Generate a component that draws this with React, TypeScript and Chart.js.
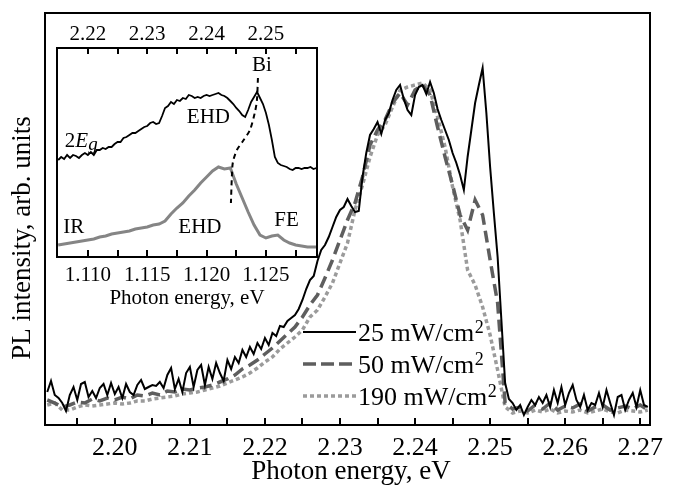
import React, { useEffect, useRef } from "react";
import { Chart, registerables } from "chart.js";

Chart.register(...registerables);

const SERIF = "'Liberation Serif', 'Times New Roman', Times, serif";

// ---------- main spectra (photon energy, eV) ----------
const MAIN_E_START = 2.191;
const FINE_STEP = 0.0005; // sampling of the 25 mW/cm2 spectrum
const COARSE_STEP = 0.001; // sampling of the 50 and 190 mW/cm2 spectra

const PL_25 = [
  33, 44, 30, 27, 22, 14, 30, 38, 25, 41, 43, 28, 34, 27, 37, 41, 30, 42, 31, 38,
  27, 41, 33, 30, 40, 45, 36, 38, 40, 39, 43, 37, 50, 57, 36, 46, 33, 52, 58, 38,
  55, 60, 40, 58, 46, 62, 52, 44, 65, 56, 68, 62, 75, 68, 78, 71, 82, 76, 87, 80,
  92, 89, 99, 98, 104, 107, 110, 116, 125, 136, 145, 149, 164, 175, 180, 188, 198, 208, 215, 218,
  226, 219, 213, 214, 248, 272, 290, 296, 303, 291, 305, 312, 325, 335, 340, 326, 315, 310, 330, 338,
  340, 331, 343, 332, 316, 305, 295, 285, 272, 262, 250, 235, 268, 295, 322, 340, 357, 312, 258, 212,
  168, 105, 42, 26, 22, 15, 20, 10, 18, 25, 20, 28, 22, 30, 18, 35, 22, 38, 20, 32,
  40, 25, 18, 30, 15, 22, 20, 32, 18, 35, 22, 10, 28, 30, 15, 25, 32, 18, 35, 20,
  18,
];

const PL_50 = [
  25, 22, 18, 20, 23, 22, 26, 24, 27, 25, 28, 26, 30, 29, 32, 30, 34, 33, 36, 35,
  37, 38, 40, 43, 46, 50, 56, 60, 65, 71, 77, 84, 91, 98, 108, 120, 130, 147, 165, 185,
  205, 222, 248, 280, 295, 305, 322, 332, 320, 335, 340, 330, 298, 268, 240, 210, 195, 225, 210, 165,
  122, 22, 16, 18, 14, 20, 16, 22, 15, 19, 17, 21, 14, 18, 20, 15, 17, 19, 16, 20,
  15,
];

const PL_190 = [
  20, 22, 15, 15, 18, 20, 19, 20, 21, 22, 21, 22, 24, 24, 26, 27, 28, 29, 31, 32,
  33, 35, 37, 39, 42, 45, 48, 52, 57, 63, 68, 76, 82, 88, 95, 108, 115, 128, 142, 162,
  182, 215, 240, 268, 290, 300, 318, 335, 338, 340, 342, 335, 308, 278, 238, 205, 155, 140, 118, 90,
  55, 18, 12, 14, 12, 15, 13, 16, 12, 14, 13, 15, 12, 14, 16, 13, 12, 15, 14, 13,
  15,
];

const MAIN_X_MIN = 2.1907;
const MAIN_X_MAX = 2.2713;
const MAIN_Y_MAX = 412;
const MAIN_TICKS = [2.2, 2.21, 2.22, 2.23, 2.24, 2.25, 2.26, 2.27];
const MAIN_MINOR_TICKS = [2.195, 2.205, 2.215, 2.225, 2.235, 2.245, 2.255, 2.265];
const LEGEND_LABELS = ["25 mW/cm", "50 mW/cm", "190 mW/cm"];

// ---------- inset ----------
const INSET_2EG_START = 2.215; // top axis, eV
const INSET_IR_START = 1.1075; // bottom axis, eV
const INSET_STEP = 0.0005;

const PL_2EG = [
  97, 100, 98, 102, 99, 102, 101, 99, 102, 104, 102, 105, 102, 107, 107, 109, 108, 110, 110, 113,
  115, 115, 119, 120, 122, 124, 124, 126, 128, 130, 131, 134, 135, 133, 134, 141, 149, 151, 155, 153,
  157, 156, 159, 158, 162, 161, 159, 160, 159, 161, 162, 161, 162, 163, 164, 162, 161, 159, 156, 153,
  149, 146, 142, 140, 147, 155, 160, 165, 159, 153, 144, 132, 117, 100, 94, 92, 91, 90, 88, 87,
  89, 89, 88, 89, 89, 90, 88, 89,
];

const PL_IR = [
  12, 13, 14, 15, 16, 17, 18, 20, 21, 23, 24, 25, 26, 28, 29, 30, 32, 33, 36, 43,
  49, 54, 61, 67, 74, 80, 86, 90, 88, 89, 73, 59, 45, 32, 22, 19, 21, 22, 17, 14,
  12, 11, 10, 10, 10,
];

const MARKER_E = [2.24865, 2.24848, 2.24815, 2.2473, 2.24613, 2.24511, 2.24444, 2.24427, 2.2441];
const MARKER_I = [179, 157, 145, 127, 116, 107, 95, 82, 54];

const INSET_TOP_MIN = 2.2148;
const INSET_TOP_MAX = 2.2586;
const INSET_BOTTOM_MIN = 1.1074;
const INSET_BOTTOM_MAX = 1.1293;
const INSET_Y_MAX = 209;
const INSET_TOP_TICKS = [2.22, 2.23, 2.24, 2.25];
const INSET_TOP_MINOR = [2.225, 2.235, 2.245, 2.255];
const INSET_BOTTOM_TICKS = [1.11, 1.115, 1.12, 1.125];
const INSET_BOTTOM_MINOR = [1.1125, 1.1175, 1.1225, 1.1275];

const INSET_LABELS = [
  { text: "Bi", e: 2.24933, i: 192 },
  { text: "EHD", e: 2.24031, i: 139.5 },
  { text: "IR", e: 2.21764, i: 29.5 },
  { text: "EHD", e: 2.23888, i: 29.5 },
  { text: "FE", e: 2.25346, i: 37 },
];
const LABEL_2EG = { e: 2.21612, i: 110 };

function sampled(start: number, step: number, values: number[]) {
  return values.map((v, k) => ({ x: +(start + k * step).toFixed(5), y: v }));
}
function paired(xs: number[], ys: number[]) {
  return xs.map((x, k) => ({ x, y: ys[k] }));
}

const mainDecor = {
  id: "mainDecor",
  afterDraw(chart: any) {
    const { ctx, chartArea: a, scales } = chart;
    const xs = scales.x;
    ctx.save();
    ctx.strokeStyle = "#000";
    ctx.lineWidth = 2;
    ctx.setLineDash([]);
    ctx.strokeRect(a.left, a.top, a.right - a.left, a.bottom - a.top);
    ctx.beginPath();
    [...MAIN_TICKS, ...MAIN_MINOR_TICKS].forEach((v) => {
      const px = Math.round(xs.getPixelForValue(v));
      ctx.moveTo(px, a.bottom);
      ctx.lineTo(px, a.bottom - 7);
    });
    ctx.stroke();

    ctx.fillStyle = "#000";
    ctx.textAlign = "center";
    ctx.textBaseline = "middle";
    ctx.font = `26px ${SERIF}`;
    MAIN_TICKS.forEach((v) => {
      ctx.fillText(v.toFixed(2), xs.getPixelForValue(v), 448);
    });
    ctx.font = `27px ${SERIF}`;
    ctx.fillText("Photon energy, eV", 351, 472);
    ctx.save();
    ctx.translate(23, 238);
    ctx.rotate(-Math.PI / 2);
    ctx.fillText("PL intensity, arb. units", 0, 0);
    ctx.restore();

    // legend
    const rows = [332, 364, 396];
    chart.data.datasets.forEach((ds: any, k: number) => {
      const y = rows[k];
      ctx.beginPath();
      ctx.strokeStyle = ds.borderColor;
      ctx.lineWidth = ds.borderWidth;
      ctx.setLineDash(ds.legendDash || []);
      ctx.moveTo(303, y);
      ctx.lineTo(356, y);
      ctx.stroke();
      ctx.setLineDash([]);
      ctx.fillStyle = "#000";
      ctx.textAlign = "left";
      ctx.textBaseline = "alphabetic";
      ctx.font = `26px ${SERIF}`;
      const label = LEGEND_LABELS[k];
      ctx.fillText(label, 358, y + 9);
      const w = ctx.measureText(label).width;
      ctx.font = `18px ${SERIF}`;
      ctx.fillText("2", 358 + w + 0.5, y + 1);
    });
    ctx.restore();
  },
};

const insetDecor = {
  id: "insetDecor",
  afterDraw(chart: any) {
    const { ctx, chartArea: a, scales } = chart;
    const xb = scales.x;
    const xt = scales.x2;
    const ys = scales.y;
    ctx.save();
    ctx.strokeStyle = "#000";
    ctx.lineWidth = 2;
    ctx.setLineDash([]);
    ctx.strokeRect(a.left, a.top, a.right - a.left, a.bottom - a.top);
    ctx.beginPath();
    [...INSET_TOP_TICKS, ...INSET_TOP_MINOR].forEach((v) => {
      const px = Math.round(xt.getPixelForValue(v));
      ctx.moveTo(px, a.top);
      ctx.lineTo(px, a.top + 6);
    });
    [...INSET_BOTTOM_TICKS, ...INSET_BOTTOM_MINOR].forEach((v) => {
      const px = Math.round(xb.getPixelForValue(v));
      ctx.moveTo(px, a.bottom);
      ctx.lineTo(px, a.bottom - 7);
    });
    ctx.stroke();

    ctx.fillStyle = "#000";
    ctx.font = `21px ${SERIF}`;
    ctx.textAlign = "center";
    ctx.textBaseline = "middle";
    INSET_TOP_TICKS.forEach((v) => {
      ctx.fillText(v.toFixed(2), xt.getPixelForValue(v), a.top - 14);
    });
    INSET_BOTTOM_TICKS.forEach((v) => {
      ctx.fillText(v.toFixed(3), xb.getPixelForValue(v), a.bottom + 18);
    });
    INSET_LABELS.forEach((l) => {
      ctx.fillText(l.text, xt.getPixelForValue(l.e), ys.getPixelForValue(l.i));
    });
    ctx.fillText("Photon energy, eV", (a.left + a.right) / 2, a.bottom + 41);

    // 2E_g
    ctx.textAlign = "left";
    ctx.textBaseline = "alphabetic";
    let px = xt.getPixelForValue(LABEL_2EG.e);
    const py = ys.getPixelForValue(LABEL_2EG.i);
    ctx.fillText("2", px, py);
    px += ctx.measureText("2").width;
    ctx.font = `italic 21px ${SERIF}`;
    ctx.fillText("E", px, py);
    px += ctx.measureText("E").width;
    ctx.font = `italic 19px ${SERIF}`;
    ctx.fillText("g", px, py + 3);
    ctx.restore();
  },
};

export default function App() {
  const mainRef = useRef<HTMLCanvasElement>(null);
  const insetRef = useRef<HTMLCanvasElement>(null);

  useEffect(() => {
    const main = new Chart(mainRef.current as HTMLCanvasElement, {
      type: "line",
      data: {
        datasets: [
          {
            label: "25 mW/cm2",
            data: sampled(MAIN_E_START, FINE_STEP, PL_25),
            borderColor: "#000000",
            borderWidth: 2,
            pointRadius: 0,
            tension: 0,
            fill: false,
          },
          {
            label: "50 mW/cm2",
            data: sampled(MAIN_E_START, COARSE_STEP, PL_50),
            borderColor: "#5e5e5e",
            borderWidth: 3.5,
            borderDash: [12, 6],
            legendDash: [13, 5],
            pointRadius: 0,
            tension: 0,
            fill: false,
          },
          {
            label: "190 mW/cm2",
            data: sampled(MAIN_E_START, COARSE_STEP, PL_190),
            borderColor: "#9b9b9b",
            borderWidth: 3.5,
            borderDash: [4, 3],
            legendDash: [4, 3],
            pointRadius: 0,
            tension: 0,
            fill: false,
          },
        ] as any,
      },
      options: {
        animation: false,
        responsive: false,
        events: [],
        layout: { padding: { left: 45, right: 27, top: 13, bottom: 0 } },
        plugins: { legend: { display: false }, tooltip: { enabled: false } },
        scales: {
          x: {
            type: "linear",
            min: MAIN_X_MIN,
            max: MAIN_X_MAX,
            grid: { display: false },
            border: { display: false },
            ticks: { display: false },
            afterFit: (s: any) => {
              s.height = 65;
            },
          },
          y: { type: "linear", display: false, min: 0, max: MAIN_Y_MAX },
        },
      },
      plugins: [mainDecor],
    });

    const inset = new Chart(insetRef.current as HTMLCanvasElement, {
      type: "line",
      data: {
        datasets: [
          {
            label: "2Eg",
            xAxisID: "x2",
            data: sampled(INSET_2EG_START, INSET_STEP, PL_2EG),
            borderColor: "#000000",
            borderWidth: 1.8,
            pointRadius: 0,
            tension: 0,
            fill: false,
          },
          {
            label: "marker",
            xAxisID: "x2",
            data: paired(MARKER_E, MARKER_I),
            borderColor: "#000000",
            borderWidth: 2,
            borderDash: [5, 4],
            pointRadius: 0,
            tension: 0.3,
            fill: false,
          },
          {
            label: "IR",
            xAxisID: "x",
            data: sampled(INSET_IR_START, INSET_STEP, PL_IR),
            borderColor: "#858585",
            borderWidth: 3,
            pointRadius: 0,
            tension: 0,
            fill: false,
          },
        ] as any,
      },
      options: {
        animation: false,
        responsive: false,
        events: [],
        layout: { padding: { left: 17, right: 13, top: 0, bottom: 0 } },
        plugins: { legend: { display: false }, tooltip: { enabled: false } },
        scales: {
          x: {
            type: "linear",
            position: "bottom",
            min: INSET_BOTTOM_MIN,
            max: INSET_BOTTOM_MAX,
            grid: { display: false },
            border: { display: false },
            ticks: { display: false },
            afterFit: (s: any) => {
              s.height = 58;
            },
          },
          x2: {
            type: "linear",
            position: "top",
            min: INSET_TOP_MIN,
            max: INSET_TOP_MAX,
            grid: { display: false },
            border: { display: false },
            ticks: { display: false },
            afterFit: (s: any) => {
              s.height = 38;
            },
          },
          y: { type: "linear", display: false, min: 0, max: INSET_Y_MAX },
        },
      },
      plugins: [insetDecor],
    });

    return () => {
      main.destroy();
      inset.destroy();
    };
  }, []);

  return (
    <div style={{ position: "fixed", left: 0, top: 0, width: 677, height: 490, background: "#fff" }}>
      <canvas ref={mainRef} width={677} height={490} style={{ position: "absolute", left: 0, top: 0 }} />
      <canvas ref={insetRef} width={290} height={305} style={{ position: "absolute", left: 40, top: 10 }} />
    </div>
  );
}
